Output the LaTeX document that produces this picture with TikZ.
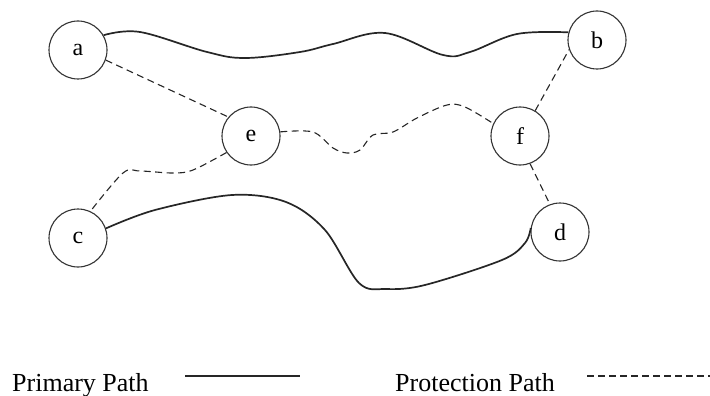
\documentclass[tikz,border=0pt]{standalone}
\usepackage{fontspec}
\setmainfont{Liberation Serif}
\begin{document}
\begin{tikzpicture}[x=1pt,y=-1pt,
  vertex/.style={draw=black!80,line width=1.1pt,circle,minimum size=58pt,inner sep=0pt,font=\fontsize{24}{26}\selectfont},
  primary/.style={draw=black!85,line width=1.7pt},
  protect/.style={draw=black!85,line width=1.1pt,dash pattern=on 7pt off 4.5pt},
  legend/.style={anchor=base west,inner sep=0pt,font=\fontsize{26}{30}\selectfont}]
\useasboundingbox (0,0) rectangle (710,396);
\node[vertex] (a) at (78,50) {a};
\node[vertex] (b) at (597,40) {b};
\node[vertex] (e) at (251,136) {e};
\node[vertex] (f) at (520,136) {f};
\node[vertex] (c) at (78,238) {c};
\node[vertex] (d) at (560,232) {d};
% primary paths
\draw[primary] plot[smooth,tension=0.6] coordinates {(a.30) (140,32) (207,52) (245,58) (300,52) (333,44) (385,33) (443,55) (470,52) (517,34) (b.165)};
\draw[primary] plot[smooth,tension=0.55] coordinates {(c.19) (155,210) (232,195) (286,202) (325,230) (359,283) (386,289) (425,285) (502,260) (525,243) (d.172)};
% protection paths
\draw[protect] (a.-20) -- (e.140);
\draw[protect] plot[smooth,tension=0.55] coordinates {(e.8) (313,132) (333,148) (347,153) (360,150) (373,135) (393,132) (417,118) (447,105) (465,107) (f.155)};
\draw[protect] plot[smooth,tension=0.55] coordinates {(e.214) (193,170) (173,173) (140,171) (123,173) (c.65)};
\draw[protect] (f.59) -- (b.-161);
\draw[protect] (f.-70) -- (d.110);
% legend
\node[legend] (lp) at (12,391) {Primary Path};
\node[legend] (lq) at (395,391) {Protection Path};
\coordinate (ps) at (185,376);
\coordinate (pe) at (300,376);
\coordinate (qs) at (587,376);
\coordinate (qe) at (710,376);
\draw[draw=black!85,line width=1.5pt] (ps) -- (pe);
\draw[draw=black!85,line width=1.6pt,dash pattern=on 7pt off 4pt] (qs) -- (qe);
\end{tikzpicture}
\end{document}
